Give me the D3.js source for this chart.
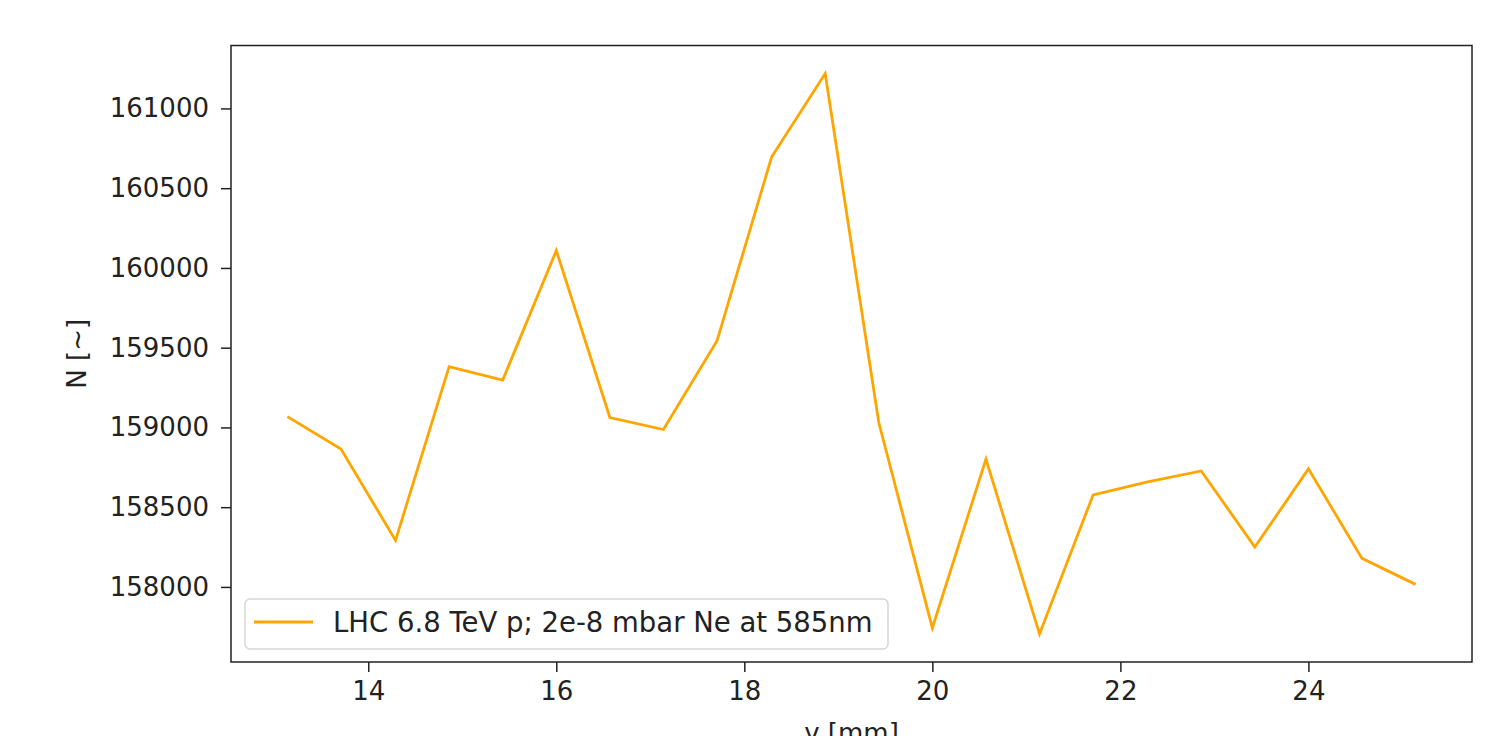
<!DOCTYPE html>
<meta charset="utf-8">
<head>
    <title>N vs y</title>
    <script src="https://cdn.jsdelivr.net/npm/d3@7"></script>
    <style>
        body { margin: 0; background: #fff; }
        text { font-family: "DejaVu Sans", sans-serif; fill: #222; }
    </style>
</head>
<body>
<script>
    // data
    var yPos = [13.14, 13.71, 14.29, 14.86, 15.43, 16.00, 16.57, 17.14, 17.71, 18.29, 18.86,
                19.43, 20.00, 20.57, 21.14, 21.71, 22.29, 22.86, 23.43, 24.00, 24.57, 25.14];
    var counts = [159068, 158864, 158292, 159381, 159297, 160109, 159062, 158987, 159544, 160695, 161219,
                  159031, 157743, 158801, 157705, 158577, 158658, 158727, 158250, 158740, 158179, 158016];
    var xTicks = [14, 16, 18, 20, 22, 24];
    var yTicks = [158000, 158500, 159000, 159500, 160000, 160500, 161000];
    var seriesName = "LHC 6.8 TeV p; 2e-8 mbar Ne at 585nm";

    var W = 1508, H = 736;
    var margin = {top: 45.5, right: 36, bottom: 74, left: 231};

    var svg = d3.select("body").append("svg")
        .attr("width", W)
        .attr("height", H);

    // matplotlib style 5% padding
    function pad(ext) {
        var d = (ext[1] - ext[0]) * 0.05;
        return [ext[0] - d, ext[1] + d];
    }

    var x = d3.scaleLinear().domain(pad(d3.extent(yPos))).range([margin.left, W - margin.right]);
    var y = d3.scaleLinear().domain(pad(d3.extent(counts))).range([H - margin.bottom, margin.top]);

    var data = yPos.map(function(d, i) { return {x: d, n: counts[i]}; });

    // axes
    var xAxis = svg.append("g")
        .attr("transform", "translate(0," + (H - margin.bottom) + ")")
        .call(d3.axisBottom(x).tickValues(xTicks).tickSize(10).tickPadding(10).tickFormat(d3.format("d")));
    var yAxis = svg.append("g")
        .attr("transform", "translate(" + margin.left + ",0)")
        .call(d3.axisLeft(y).tickValues(yTicks).tickSize(10).tickPadding(12).tickFormat(d3.format("d")));

    [xAxis, yAxis].forEach(function(a) {
        a.select(".domain").remove();
        a.selectAll(".tick line").attr("stroke", "#222").attr("stroke-width", 1.5);
        a.selectAll(".tick text").style("font-size", "26px").attr("fill", "#222");
    });

    // frame
    svg.append("rect")
        .attr("x", margin.left).attr("y", margin.top)
        .attr("width", W - margin.right - margin.left)
        .attr("height", H - margin.bottom - margin.top)
        .attr("fill", "none").attr("stroke", "#222").attr("stroke-width", 1.5);

    // line
    var line = d3.line().x(function(d) { return x(d.x); }).y(function(d) { return y(d.n); });
    svg.append("path")
        .datum(data)
        .attr("d", line)
        .attr("fill", "none")
        .attr("stroke", "#ffa500")
        .attr("stroke-width", 2.8)
        .attr("stroke-linejoin", "miter");

    // axis labels
    svg.append("text")
        .attr("x", (margin.left + W - margin.right) / 2)
        .attr("y", 742)
        .attr("text-anchor", "middle")
        .style("font-size", "26px")
        .text("y [mm]");
    svg.append("text")
        .attr("transform", "translate(86," + ((margin.top + H - margin.bottom) / 2) + ") rotate(-90)")
        .attr("text-anchor", "middle")
        .style("font-size", "26px")
        .text("N [~]");

    // legend
    var lg = svg.append("g").attr("transform", "translate(245,599)");
    lg.append("rect")
        .attr("width", 643).attr("height", 50)
        .attr("rx", 5)
        .attr("fill", "#fff").attr("fill-opacity", 0.8)
        .attr("stroke", "#d6d6d6").attr("stroke-width", 1.5);
    lg.append("line")
        .attr("x1", 9).attr("x2", 68).attr("y1", 23).attr("y2", 23)
        .attr("stroke", "#ffa500").attr("stroke-width", 2.8);
    lg.append("text")
        .attr("x", 88).attr("y", 33)
        .style("font-size", "27.5px")
        .text(seriesName);
</script>
</body>
</html>
